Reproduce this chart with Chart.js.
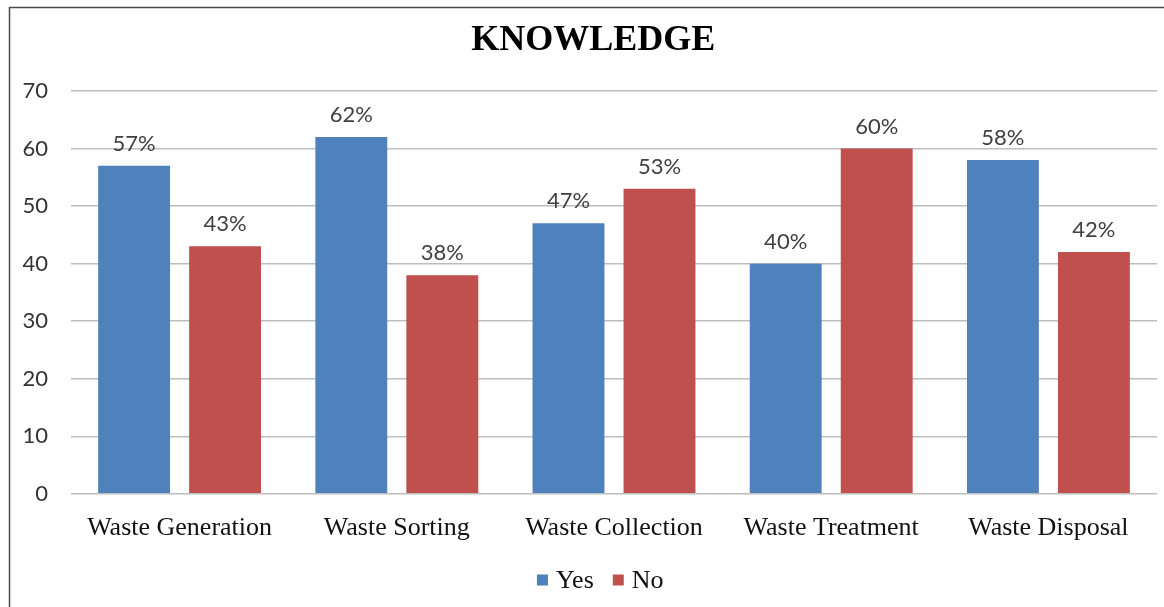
<!DOCTYPE html>
<html>
<head>
<meta charset="utf-8">
<script src="https://cdn.jsdelivr.net/npm/chart.js@4"></script>
<style>
  html, body { margin: 0; padding: 0; background: #fff; }
  #wrap { width: 1164px; height: 607px; position: relative; }
</style>
</head>
<body>
<div id="wrap"><canvas id="chart"></canvas></div>
<script>
const categories = ['Waste Generation', 'Waste Sorting', 'Waste Collection', 'Waste Treatment', 'Waste Disposal'];
const yesValues = [57, 62, 47, 40, 58];
const noValues = [43, 38, 53, 60, 42];
const yTicks = [0, 10, 20, 30, 40, 50, 60, 70];
const seriesNames = ['Yes', 'No'];
const seriesColors = ['#4F81BD', '#C0504D'];
const chartTitle = 'KNOWLEDGE';

const serif = '"Liberation Serif", "Times New Roman", serif';
const sans = 'Lato, "Liberation Sans", sans-serif';

// outer frame runs past the right/bottom edge of the canvas
const frame = { left: 9.5, top: 7.5, right: 1183 };
const frameMid = (frame.left + frame.right) / 2;

// frame, title and legend are drawn by hand so they centre on the frame
const decorPlugin = {
  id: 'decor',
  beforeDraw(chart) {
    const ctx = chart.ctx;
    ctx.save();
    ctx.fillStyle = '#fff';
    ctx.fillRect(0, 0, chart.width, chart.height);
    ctx.strokeStyle = '#4a4a4a';
    ctx.lineWidth = 1.5;
    ctx.beginPath();
    ctx.moveTo(frame.left, chart.height);
    ctx.lineTo(frame.left, frame.top);
    ctx.lineTo(chart.width, frame.top);
    ctx.stroke();

    ctx.fillStyle = '#000';
    ctx.font = 'bold 36px ' + serif;
    ctx.textAlign = 'center';
    ctx.textBaseline = 'alphabetic';
    ctx.fillText(chartTitle, frameMid - 3, 50);

    // legend
    ctx.font = '26px ' + serif;
    const box = 11, boxGap = 8, itemGap = 19;
    const widths = seriesNames.map(n => box + boxGap + ctx.measureText(n).width);
    const total = widths.reduce((a, b) => a + b, 0) + itemGap * (seriesNames.length - 1);
    let x = frameMid + 4 - total / 2;
    const cy = 580;
    ctx.textAlign = 'left';
    ctx.textBaseline = 'middle';
    seriesNames.forEach((n, i) => {
      ctx.fillStyle = seriesColors[i];
      ctx.fillRect(x, cy - box / 2, box, box);
      ctx.fillStyle = '#111';
      ctx.fillText(n, x + box + boxGap, cy + 1);
      x += widths[i] + itemGap;
    });
    ctx.restore();
  }
};

// percentage labels above each bar
const valueLabels = {
  id: 'valueLabels',
  afterDatasetsDraw(chart) {
    const ctx = chart.ctx;
    ctx.save();
    ctx.font = '22px ' + sans;
    ctx.fillStyle = '#404040';
    ctx.textAlign = 'center';
    ctx.textBaseline = 'alphabetic';
    chart.data.datasets.forEach((ds, i) => {
      chart.getDatasetMeta(i).data.forEach((bar, j) => {
        ctx.fillText(ds.data[j] + '%', bar.x, bar.y - 15);
      });
    });
    ctx.restore();
  }
};

new Chart(document.getElementById('chart'), {
  type: 'bar',
  data: {
    labels: categories,
    datasets: [
      { label: seriesNames[0], data: yesValues, backgroundColor: seriesColors[0] },
      { label: seriesNames[1], data: noValues, backgroundColor: seriesColors[1] }
    ]
  },
  options: {
    responsive: true,
    maintainAspectRatio: false,
    animation: false,
    categoryPercentage: 0.838,
    barPercentage: 0.79,
    layout: { padding: { top: 91, right: 7, bottom: 44, left: 0 } },
    plugins: {
      title: { display: false },
      legend: { display: false },
      tooltip: { enabled: false }
    },
    scales: {
      x: {
        grid: { display: false, drawTicks: false },
        border: { display: false },
        ticks: {
          color: '#111',
          padding: 19,
          font: { family: serif, size: 26 }
        }
      },
      y: {
        min: yTicks[0],
        max: yTicks[yTicks.length - 1],
        afterBuildTicks(axis) {
          axis.ticks = yTicks.map(v => ({ value: v }));
        },
        afterFit(axis) { axis.width = 71; },
        grid: { color: '#bdbdbd', lineWidth: 1.5, drawTicks: false },
        border: { display: false },
        ticks: {
          color: '#333',
          padding: 23,
          font: { family: sans, size: 22 }
        }
      }
    }
  },
  plugins: [decorPlugin, valueLabels]
});
</script>
</body>
</html>
